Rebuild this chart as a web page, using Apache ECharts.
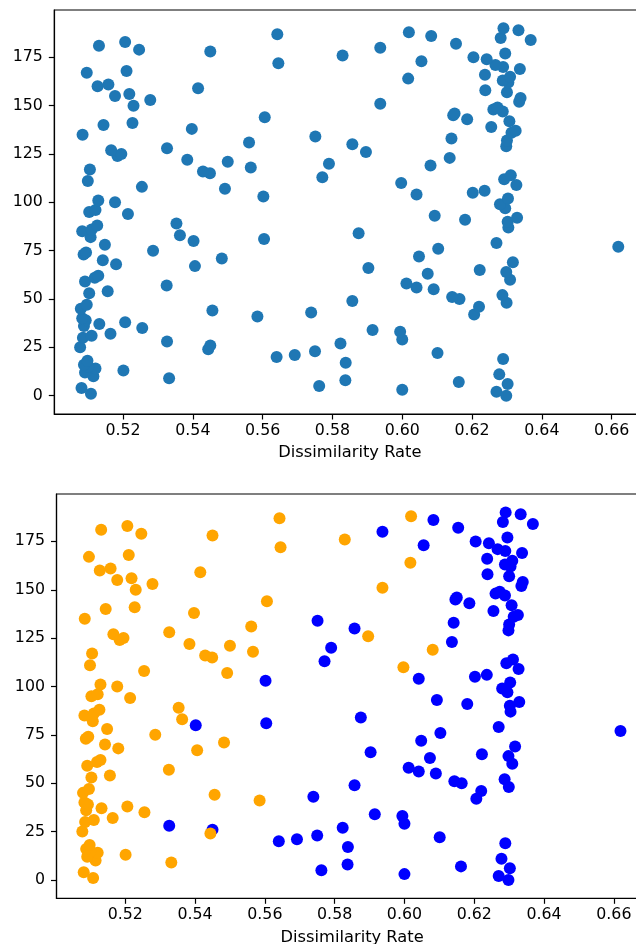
<!DOCTYPE html>
<html>
<head>
<meta charset="utf-8">
<script src="https://cdn.jsdelivr.net/npm/echarts@6/dist/echarts.min.js"></script>
<style>
  html, body { margin: 0; padding: 0; background: #fff; }
  #chart { width: 636px; height: 944px; }
</style>
</head>
<body>
<div id="chart"></div>
<script>
// sample index (y) and dissimilarity rate (x)
const sampleId = [
  0, 1, 2, 3, 4, 5, 6, 7, 8, 9, 10, 11, 12, 13, 14, 15, 16, 17, 18, 19,
  20, 21, 22, 23, 24, 25, 26, 27, 28, 29, 30, 31, 32, 33, 34, 35, 36, 37, 38, 39,
  40, 41, 42, 43, 44, 45, 46, 47, 48, 49, 50, 51, 52, 53, 54, 55, 56, 57, 58, 59,
  60, 61, 62, 63, 64, 65, 66, 67, 68, 69, 70, 71, 72, 73, 74, 75, 76, 77, 78, 79,
  80, 81, 82, 83, 84, 85, 86, 87, 88, 89, 90, 91, 92, 93, 94, 95, 96, 97, 99,
  100, 101, 102, 103, 104, 105, 106, 107, 108, 109, 110, 111, 112, 113, 114, 115, 116, 117, 118, 119,
  120, 121, 122, 123, 124, 125, 126, 127, 128, 129, 130, 131, 132, 133, 134, 135, 136, 137, 138, 139,
  140, 141, 142, 143, 144, 145, 146, 147, 148, 149, 150, 151, 152, 153, 154, 155, 156, 157, 158, 159,
  160, 161, 162, 163, 164, 165, 166, 167, 168, 169, 170, 171, 172, 173, 174, 175, 176, 177, 178, 179,
  180, 181, 182, 183, 184, 185, 186, 187, 188, 189, 190
]
const dissimilarity = [
  0.6298, 0.5108, 0.6270, 0.6000, 0.5081, 0.5762, 0.6302, 0.6162, 0.5837, 0.5332,
  0.5115, 0.6278, 0.5091, 0.5201, 0.5121, 0.5100, 0.5088, 0.5838, 0.5098, 0.6289,
  0.5640, 0.5692, 0.6101, 0.5750, 0.5444, 0.5077, 0.5450, 0.5823, 0.5326, 0.6000,
  0.5085, 0.5110, 0.5164, 0.5994, 0.5915, 0.5255, 0.5088, 0.5132, 0.5206, 0.5093,
  0.5083, 0.5585, 0.6206, 0.5739, 0.5456, 0.5079, 0.6220, 0.5096, 0.6299, 0.5857,
  0.6164, 0.6143, 0.6287, 0.5103, 0.5156, 0.6090, 0.6041, 0.5325, 0.6012, 0.5091,
  0.6309, 0.5119, 0.5129, 0.6073, 0.6298, 0.6222, 0.5903, 0.5406, 0.5180, 0.6317,
  0.5142, 0.5483, 0.6048, 0.5087, 0.5094, 0.5286, 0.6103, 0.6619, 0.5148, 0.6270,
  0.5402, 0.5604, 0.5107, 0.5363, 0.5875, 0.5083, 0.5110, 0.6304, 0.5126, 0.5353,
  0.6302, 0.6180, 0.6329, 0.6093, 0.5214, 0.5103, 0.5121, 0.6295, 0.6280,
  0.5177, 0.5129, 0.6303, 0.5602, 0.6041, 0.6202, 0.6236, 0.5492, 0.5254, 0.6327,
  0.5997, 0.5099, 0.6292, 0.5771, 0.6311, 0.5449, 0.5429, 0.5105, 0.5566, 0.6081,
  0.5790, 0.5500, 0.5384, 0.6136, 0.5184, 0.5195, 0.5896, 0.5166, 0.5326, 0.6298,
  0.5857, 0.5561, 0.6300, 0.6141, 0.5751, 0.5084, 0.6313, 0.6325, 0.5397, 0.6255,
  0.5144, 0.5227, 0.6307, 0.6186, 0.5606, 0.6146, 0.6150, 0.6288, 0.6261, 0.6273,
  0.5230, 0.5937, 0.6335, 0.5278, 0.6339, 0.5177, 0.5218, 0.6300, 0.6238, 0.5415,
  0.5127, 0.5158, 0.6304, 0.6288, 0.6017, 0.6309, 0.6237, 0.5096, 0.5210, 0.6337,
  0.6289, 0.6267, 0.5645, 0.6055, 0.6242, 0.6204, 0.5829, 0.6295, 0.5450, 0.5246,
  0.5937, 0.5131, 0.6154, 0.5206, 0.6368, 0.6282, 0.6083, 0.5642, 0.6019, 0.6333,
  0.6290
]
// cluster label for the lower plot: 0 = orange, 1 = blue
const cluster = [
  1, 0, 1, 1, 0, 1, 1, 1, 1, 0, 0, 1, 0, 0, 0, 0, 0, 1, 0, 1,
  1, 1, 1, 1, 0, 0, 1, 1, 1, 1, 0, 0, 0, 1, 1, 0, 0, 0, 0, 0,
  0, 0, 1, 1, 0, 0, 1, 0, 1, 1, 1, 1, 1, 0, 0, 1, 1, 0, 1, 0,
  1, 0, 0, 1, 1, 1, 1, 0, 0, 1, 0, 0, 1, 0, 0, 0, 1, 1, 0, 1,
  1, 1, 0, 0, 1, 0, 0, 1, 0, 0, 1, 1, 1, 1, 0, 0, 0, 1, 1,
  0, 0, 1, 1, 1, 1, 1, 0, 0, 1, 0, 0, 1, 1, 1, 0, 0, 0, 0, 0,
  1, 0, 0, 1, 0, 0, 0, 0, 0, 1, 1, 0, 1, 1, 1, 0, 1, 1, 0, 1,
  0, 0, 1, 1, 0, 1, 1, 1, 1, 1, 0, 0, 1, 0, 1, 0, 0, 1, 1, 0,
  0, 0, 1, 1, 0, 1, 1, 0, 0, 1, 1, 1, 0, 1, 1, 1, 0, 1, 0, 0,
  1, 0, 1, 0, 1, 1, 1, 0, 0, 1, 1
]
const xTicks = [0.52, 0.54, 0.56, 0.58, 0.60, 0.62, 0.64, 0.66]
const yTicks = [0, 25, 50, 75, 100, 125, 150, 175]
const xName = 'Dissimilarity Rate'

const FONT = 'DejaVu Sans'
const INK = '#000'

const points = sampleId.map((id, i) => [dissimilarity[i], id])
const ptsOrange = points.filter((p, i) => cluster[i] === 0)
const ptsBlue = points.filter((p, i) => cluster[i] === 1)

function xAxisFor(gridIndex) {
  return {
    type: 'value',
    gridIndex,
    min: 0.5003,
    max: 0.6697,
    name: xName,
    nameLocation: 'middle',
    nameGap: 31,
    nameTextStyle: { fontFamily: FONT, fontSize: 16.3, color: INK },
    axisLine: { show: true, onZero: false, lineStyle: { color: INK, width: 1.2 } },
    axisTick: { show: true, length: 5.5, customValues: xTicks, lineStyle: { color: INK, width: 1.2 } },
    axisLabel: {
      customValues: xTicks,
      formatter: (v) => v.toFixed(2),
      margin: 9,
      fontFamily: FONT,
      fontSize: 15.8,
      color: INK,
    },
    splitLine: { show: false },
  }
}

function yAxisFor(gridIndex) {
  return {
    type: 'value',
    gridIndex,
    min: -9.5,
    max: 199.5,
    axisLine: { show: true, onZero: false, lineStyle: { color: INK, width: 1.2 } },
    axisTick: { show: true, length: 5.5, customValues: yTicks, lineStyle: { color: INK, width: 1.2 } },
    axisLabel: {
      customValues: yTicks,
      margin: 11.5,
      fontFamily: FONT,
      fontSize: 15.8,
      color: INK,
    },
    splitLine: { show: false },
  }
}

const chart = echarts.init(document.getElementById('chart'))
chart.setOption({
  animation: false,
  backgroundColor: '#fff',
  grid: [
    // top plot, right spine is cut off by the picture edge
    {
      left: 54.3, top: 10, width: 591.2, height: 404,
      show: true, borderColor: INK, borderWidth: 1.2,
      outerBoundsMode: 'none', containLabel: false,
    },
    {
      left: 56.5, top: 494, width: 591.2, height: 404.3,
      show: true, borderColor: INK, borderWidth: 1.2,
      outerBoundsMode: 'none', containLabel: false,
    },
  ],
  xAxis: [xAxisFor(0), xAxisFor(1)],
  yAxis: [yAxisFor(0), yAxisFor(1)],
  series: [
    {
      type: 'scatter',
      xAxisIndex: 0,
      yAxisIndex: 0,
      symbolSize: 12,
      itemStyle: { color: '#1f77b4', opacity: 1 },
      data: points,
    },
    {
      type: 'scatter',
      xAxisIndex: 1,
      yAxisIndex: 1,
      symbolSize: 12,
      itemStyle: { color: 'blue', opacity: 1 },
      data: ptsBlue,
    },
    {
      type: 'scatter',
      xAxisIndex: 1,
      yAxisIndex: 1,
      symbolSize: 12,
      itemStyle: { color: 'orange', opacity: 1 },
      data: ptsOrange,
    },
  ],
})
</script>
</body>
</html>
